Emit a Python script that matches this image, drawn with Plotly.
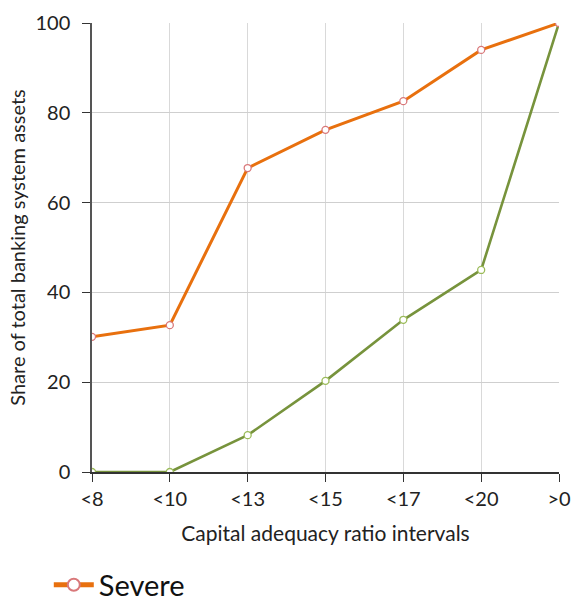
import plotly.graph_objects as go

# Capital adequacy ratio buckets and cumulative asset shares (%)
categories = ["<8", "<10", "<13", "<15", "<17", "<20", ">0"]
severe = [30.1, 32.7, 67.7, 76.2, 82.6, 94.0, 100.0]
baseline = [0.0, 0.0, 8.2, 20.3, 33.9, 45.0, 100.0]
y_ticks = [0, 20, 40, 60, 80, 100]

FONT = "Lato, 'Open Sans', sans-serif"

fig = go.Figure()

fig.add_trace(go.Scatter(
    x=categories, y=baseline, name="Baseline", mode="lines+markers",
    line=dict(color="#77933C", width=2.6),
    marker=dict(symbol="circle", size=7, color="white",
                line=dict(color="#9BBB59", width=1.3)),
    showlegend=False,
))

fig.add_trace(go.Scatter(
    x=categories, y=severe, name="Severe", mode="lines+markers",
    line=dict(color="#E8700E", width=3),
    marker=dict(symbol="circle", size=7, color="white",
                line=dict(color="#D9787A", width=1.3)),
))

fig.update_layout(
    width=574, height=603,
    margin=dict(l=92, r=15, t=23, b=131, autoexpand=False),
    paper_bgcolor="white", plot_bgcolor="white",
    font=dict(family=FONT, color="#222222"),
    showlegend=True,
    legend=dict(
        orientation="h", xref="container", yref="container",
        x=0.085, y=0.03, xanchor="left", yanchor="middle",
        font=dict(size=29, family=FONT, color="#111111"),
        bgcolor="rgba(0,0,0,0)", itemsizing="constant",
        itemwidth=40,
    ),
    xaxis=dict(
        type="category", range=[0, 6], automargin=False,
        showgrid=True, gridcolor="#D9D9D9", gridwidth=1,
        showline=True, linecolor="#333333", linewidth=1.5,
        ticks="outside", ticklen=8, tickcolor="#333333",
        tickfont=dict(size=20, family=FONT, color="#222222"),
        title=dict(text="Capital adequacy ratio intervals",
                   font=dict(size=21, family=FONT, color="#222222"),
                   standoff=18),
        zeroline=False,
    ),
    yaxis=dict(
        range=[0, 100], tickvals=y_ticks, automargin=False,
        showgrid=True, gridcolor="#CFCFCF", gridwidth=1,
        showline=True, linecolor="#555555", linewidth=1.5,
        ticks="outside", ticklen=8, tickcolor="#333333",
        ticklabelstandoff=8,
        tickfont=dict(size=20, family=FONT, color="#222222"),
        title=dict(text="Share of total banking system assets",
                   font=dict(size=20, family=FONT, color="#222222"),
                   standoff=4),
        zeroline=False,
    ),
)

fig.write_html("out.html")
